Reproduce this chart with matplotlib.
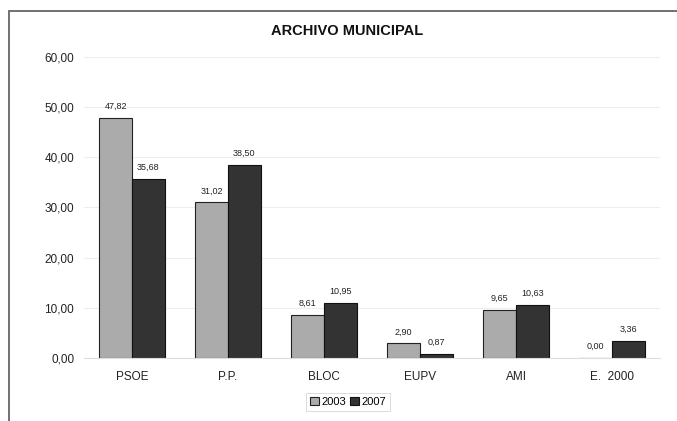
import numpy as np
import matplotlib.pyplot as plt
from matplotlib.patches import Rectangle

plt.rcParams['font.family'] = ['Liberation Sans', 'DejaVu Sans']

partidos = ['PSOE', 'P.P.', 'BLOC', 'EUPV', 'AMI', 'E.  2000']
v2003 = [47.82, 31.02, 8.61, 2.90, 9.65, 0.00]
v2007 = [35.68, 38.50, 10.95, 0.87, 10.63, 3.36]
etiq2003 = ['47,82', '31,02', '8,61', '2,90', '9,65', '0,00']
etiq2007 = ['35,68', '38,50', '10,95', '0,87', '10,63', '3,36']
yticks = [0, 10, 20, 30, 40, 50, 60]
ylabels = ['0,00', '10,00', '20,00', '30,00', '40,00', '50,00', '60,00']

fig = plt.figure(figsize=(6.77, 4.21), dpi=100)
# marco exterior (abierto por la derecha y abajo)
fig.patches.append(Rectangle((9/677, -0.1), 1.2, 1 - 11/421 + 0.1,
                             transform=fig.transFigure, fill=False,
                             edgecolor='#666666', linewidth=1.3))
ax = fig.add_axes([84/677, 1 - 358/421, 576/677, 301/421])

x = np.arange(len(partidos))
w = 0.34
b1 = ax.bar(x - w/2, v2003, w, color='#ababab', edgecolor='#222222', linewidth=0.8, label='2003')
b2 = ax.bar(x + w/2, v2007, w, color='#333333', edgecolor='#111111', linewidth=0.8, label='2007')

for barras, etiquetas in [(b1, etiq2003), (b2, etiq2007)]:
    for rect, t in zip(barras, etiquetas):
        ax.annotate(t, (rect.get_x() + rect.get_width()/2, rect.get_height()),
                    xytext=(0, 5), textcoords='offset points', ha='center', va='bottom',
                    fontsize=6.5, color='#222222')

ax.set_xlim(-0.5, len(partidos) - 0.5)
ax.set_ylim(0, 60)
ax.set_yticks(yticks)
ax.set_yticklabels(ylabels, fontsize=8.5, color='#222222')
ax.set_xticks(x)
ax.set_xticklabels(partidos, fontsize=8.5, color='#222222')
ax.tick_params(axis='y', length=0, pad=7)
ax.tick_params(axis='x', length=0, pad=9)
ax.grid(axis='y', color='#eeeeee', linewidth=0.8)
ax.set_axisbelow(True)
for s in ['top', 'right', 'left']:
    ax.spines[s].set_visible(False)
ax.spines['bottom'].set_color('#dddddd')

fig.text(347/677, 1 - 31/421, 'ARCHIVO MUNICIPAL', ha='center', va='center',
         fontsize=10.5, fontweight='bold', color='#111111')

leg = fig.legend(handles=[b1, b2], loc='center', bbox_to_anchor=(348/677, 1 - 402/421),
                 ncol=2, fontsize=8, frameon=True, fancybox=False, handlelength=0.8,
                 handleheight=0.8, handletextpad=0.2, columnspacing=0.4, borderpad=0.35)
leg.get_frame().set_edgecolor('#cccccc')
leg.get_frame().set_linewidth(0.6)

fig.savefig('out.png', dpi=100)
